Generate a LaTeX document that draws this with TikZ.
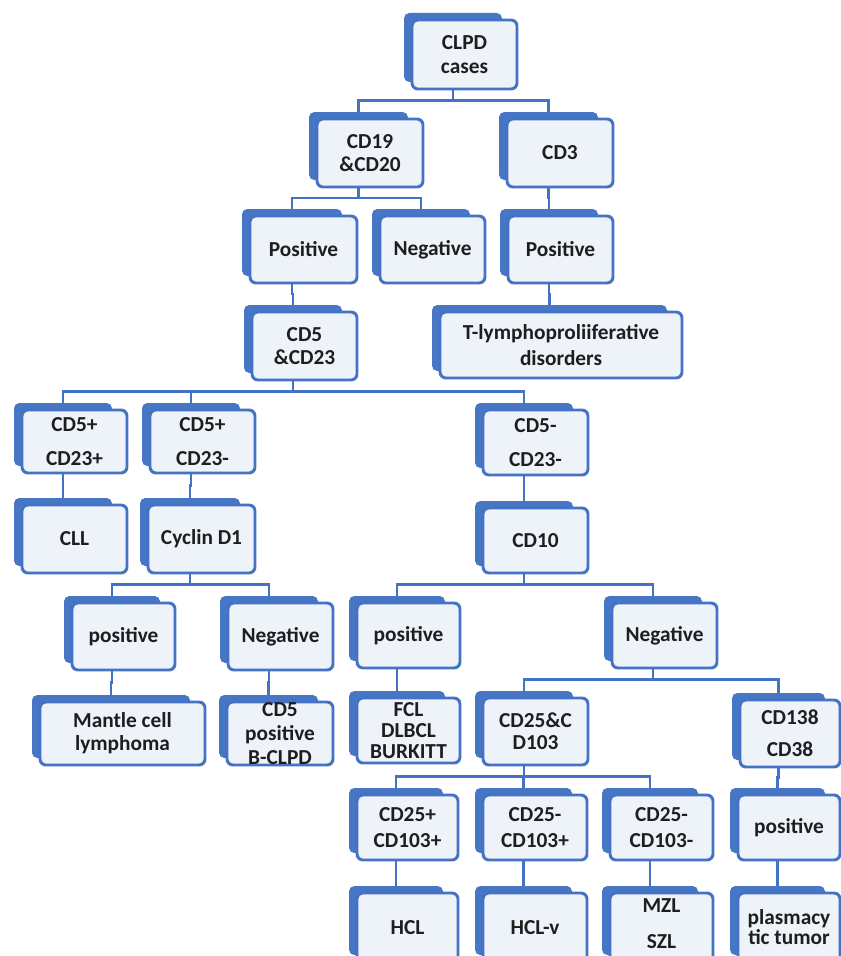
\documentclass[tikz,border=0pt]{standalone}
\usepackage{fontspec}
\setmainfont{Carlito}
\usetikzlibrary{calc}
\definecolor{bdr}{HTML}{4472C4}
\definecolor{bkf}{HTML}{4676C4}
\definecolor{frf}{HTML}{EEF2F9}
\definecolor{txc}{HTML}{1E1E1E}
\tikzset{
 backbox/.style={fill=bkf, draw=none, rounded corners=4pt, inner sep=0pt, outer sep=0pt},
 frontbox/.style={fill=frf, draw=bdr, line width=2.2pt, rounded corners=4.5pt, inner sep=0pt, outer sep=0pt},
 txt/.style={text=txc, align=center, inner sep=0pt},
 txtshift/.style={},
 conn/.style={draw=bdr, line width=2.2pt},
}
% [baselineskip]{name}{left}{top}{right}{bottom}{text}
\newcommand\bx[7][18]{%
  \node[backbox, minimum width={(#5-#3-7)*0.75pt}, minimum height={(#6-#4)*0.75pt}] (#2b) at ({(#3+#5-23)/2},{(#4+#6-14)/2}) {};
  \node[frontbox, minimum width={(#5-#3)*0.75pt}, minimum height={(#6-#4)*0.75pt}] (#2) at ({(#3+#5)/2},{(#4+#6)/2}) {};
  \node[txt, txtshift, font=\fontsize{16}{#1}\selectfont\bfseries] (#2t) at (#2.center) {#7};
}
\newcommand\fork[2]{%
  \foreach \kid [count=\i] in {#2}{%
    \ifnum\i=1 \coordinate (#1m) at ($(#1.south)!0.5!(\kid b.north)$);\fi
    \draw[conn] (#1b |- #1.south) -- (#1b |- #1m) -| (\kid b.north);
  }%
}
\begin{document}
\begin{tikzpicture}[x=0.75pt,y=-0.75pt]
\useasboundingbox (0,0) rectangle (841,956);
\clip (0,0) rectangle (841,956);
\fill[white] (0,0) rectangle (841,956);

\bx{clpd}{412}{20}{517}{89}{CLPD\\cases}
\bx[17]{cdnt}{317}{119}{423}{187}{CD19\\\&CD20}
\bx{cdt}{507}{119}{613}{187}{CD3}
\bx{posl}{250}{216}{357}{283}{Positive}
\bx{nega}{380}{216}{485}{283}{Negative}
\bx{posr}{508}{216}{613}{283}{Positive}
\bx[17]{cdf}{252}{312}{357}{380}{CD5\\\&CD23}
\bx[19]{tly}{440}{312}{682}{378}{T-lymphoproliiferative\\disorders}
\bx[25]{pp}{22}{410}{127}{473}{CD5+\\CD23+}
\bx[25]{pm}{150}{410}{255}{473}{CD5+\\CD23-}
\bx[25]{mm}{483}{410}{588}{475}{CD5-\\CD23-}
\bx{cll}{22}{505}{127}{573}{CLL}
\bx{cyc}{148}{505}{255}{573}{Cyclin D1}
\bx{cdx}{483}{508}{588}{573}{CD10}
\bx{posm}{72}{603}{175}{670}{positive}
\bx{negm}{228}{603}{333}{670}{Negative}
\bx{posf}{357}{603}{460}{668}{positive}
\bx{negr}{612}{603}{717}{668}{Negative}
\bx[17]{mcl}{40}{702}{205}{765}{Mantle cell\\lymphoma}
\bx[18]{bcl}{227}{702}{333}{765}{CD5\\positive\\B-CLPD}
\bx[16]{fcl}{357}{698}{460}{763}{FCL\\DLBCL\\BURKITT}
\bx[16.5]{cdc}{483}{698}{588}{765}{CD25\&C\\D103}
\bx[24]{cdo}{740}{700}{840}{767}{CD138\\CD38}
\bx[20]{hpp}{357}{795}{458}{860}{CD25+\\CD103+}
\bx[20]{hmp}{483}{795}{587}{860}{CD25-\\CD103+}
\bx[20]{hmm}{610}{795}{713}{860}{CD25-\\CD103-}
\bx{pot}{738}{795}{840}{860}{positive}
\bx{hcl}{357}{893}{458}{962}{HCL}
\bx{hclv}{483}{893}{587}{962}{HCL-v}
\begin{scope}[txtshift/.style={yshift=2.8pt}]
\bx[27]{mzl}{610}{893}{713}{962}{MZL\\SZL}
\end{scope}
\bx[15]{pla}{738}{893}{840}{962}{plasmacy\\tic tumor}

\fork{clpd}{cdnt,cdt}
\fork{cdnt}{posl,nega}
\fork{cdt}{posr}
\fork{posl}{cdf}
\fork{posr}{tly}
\fork{cdf}{pp,pm,mm}
\fork{pp}{cll}
\fork{pm}{cyc}
\fork{mm}{cdx}
\fork{cyc}{posm,negm}
\fork{cdx}{posf,negr}
\fork{posm}{mcl}
\fork{negm}{bcl}
\fork{posf}{fcl}
\fork{negr}{cdc,cdo}
\fork{cdc}{hpp,hmp,hmm}
\fork{cdo}{pot}
\fork{hpp}{hcl}
\fork{hmp}{hclv}
\fork{hmm}{mzl}
\fork{pot}{pla}
\end{tikzpicture}
\end{document}
